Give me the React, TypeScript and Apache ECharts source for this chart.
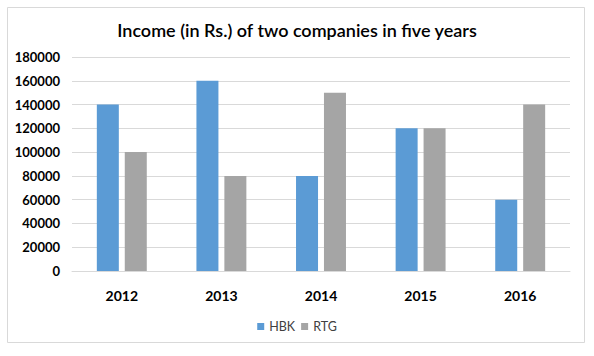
import React, { useEffect, useRef } from "react";
import * as echarts from "echarts";

const categories = ["2012", "2013", "2014", "2015", "2016"];
const hbkValues = [140000, 160000, 80000, 120000, 60000];
const rtgValues = [100000, 80000, 150000, 120000, 140000];
const seriesNames = ["HBK", "RTG"];
const titleText = "Income (in Rs.) of two companies in five years";

const FONT = "Lato, 'Open Sans', sans-serif";

export default function App() {
  const ref = useRef<HTMLDivElement>(null);
  useEffect(() => {
    document.body.style.margin = "0";
    const chart = echarts.init(ref.current!, null, { renderer: "svg" });
    chart.setOption({
      animation: false,
      backgroundColor: "#ffffff",
      textStyle: { fontFamily: FONT },
      title: {
        text: titleText,
        left: "center",
        top: 16,
        textStyle: { fontSize: 18, fontWeight: 600, color: "#000000", fontFamily: FONT },
      },
      graphic: [
        {
          type: "rect",
          shape: { x: 7.5, y: 7.5, width: 577, height: 335 },
          style: { fill: "none", stroke: "#D9D9D9", lineWidth: 1 },
          silent: true,
        },
      ],
      grid: { left: 72, right: 24, top: 57, bottom: 85, containLabel: false },
      legend: {
        data: seriesNames,
        top: 315,
        left: "center",
        itemWidth: 7,
        itemHeight: 7,
        itemGap: 6,
        icon: "rect",
        textStyle: { fontSize: 12.5, color: "#404040", fontFamily: FONT },
      },
      xAxis: {
        type: "category",
        data: categories,
        axisLine: { show: true, lineStyle: { color: "#D9D9D9" } },
        axisTick: { show: false },
        axisLabel: { fontSize: 14, fontWeight: "bold", color: "#000000", margin: 17, fontFamily: FONT },
      },
      yAxis: {
        type: "value",
        min: 0,
        max: 180000,
        interval: 20000,
        axisLine: { show: false },
        axisTick: { show: false },
        splitLine: { lineStyle: { color: "#D9D9D9" } },
        axisLabel: {
          fontSize: 13,
          fontWeight: "bold",
          color: "#000000",
          margin: 12,
          fontFamily: FONT,
          formatter: (v: number) => String(v),
        },
      },
      series: [
        {
          name: seriesNames[0],
          type: "bar",
          data: hbkValues,
          barWidth: 22,
          barGap: "27%",
          itemStyle: { color: "#5B9BD5" },
        },
        {
          name: seriesNames[1],
          type: "bar",
          data: rtgValues,
          barWidth: 22,
          barGap: "27%",
          itemStyle: { color: "#A5A5A5" },
        },
      ],
    });
    return () => chart.dispose();
  }, []);
  return <div ref={ref} style={{ width: 594, height: 356 }} />;
}
